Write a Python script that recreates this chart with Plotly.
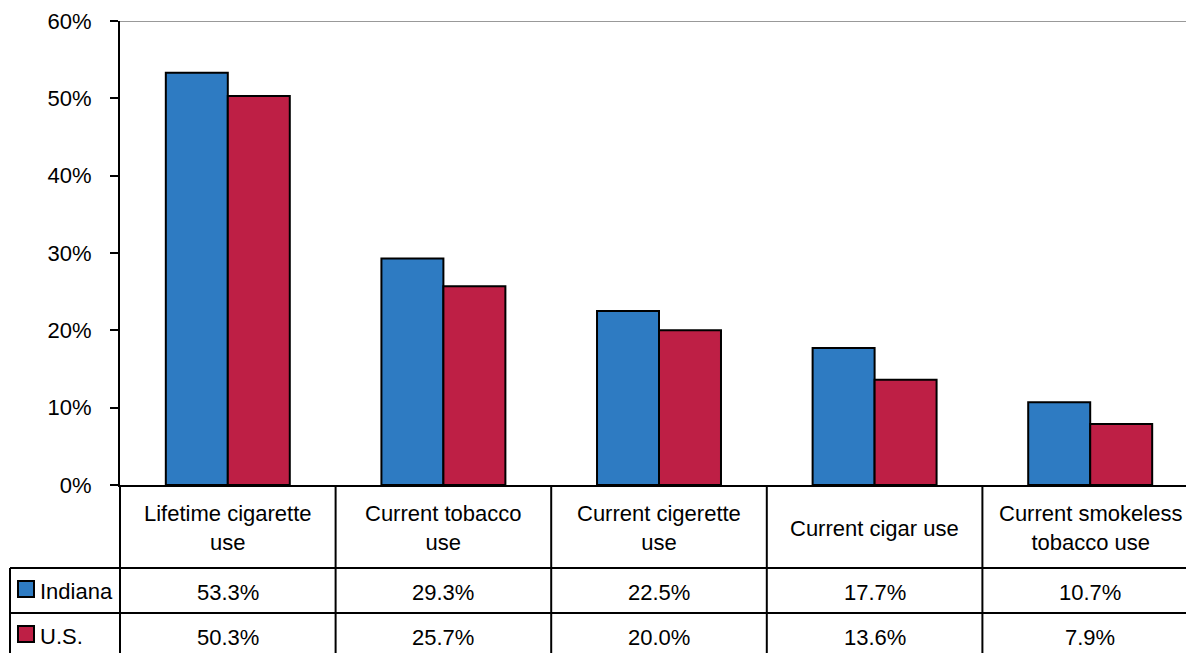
import plotly.graph_objects as go

# Survey results: share of respondents reporting each type of tobacco use
categories = ["Lifetime cigarette<br>use", "Current tobacco<br>use", "Current cigerette<br>use",
              "Current cigar use", "Current smokeless<br>tobacco use"]
series_names = ["Indiana", "U.S."]
indiana = [53.3, 29.3, 22.5, 17.7, 10.7]
us = [50.3, 25.7, 20.0, 13.6, 7.9]
y_ticks = [0, 10, 20, 30, 40, 50, 60]
y_tick_labels = [f"{t}%" for t in y_ticks]

BLUE = "#2E7BC2"
RED = "#BE1F45"
FONT = "Liberation Sans, Arial, sans-serif"

W, H = 1186, 653
ML, MT, MB = 120, 21, 168
plot_w = W - ML
plot_h = H - MT - MB
col_w = 215.6  # pixel width of one category column
x_hi = -0.5 + plot_w / col_w

def px_x(px):
    return (px - ML) / plot_w

def px_y(py):
    return (H - MB - py) / plot_h

fig = go.Figure()
for name, vals, col in [(series_names[0], indiana, BLUE), (series_names[1], us, RED)]:
    fig.add_trace(go.Bar(
        x=list(range(len(categories))), y=vals, name=name,
        marker=dict(color=col, line=dict(color="black", width=2)),
        showlegend=False, hoverinfo="skip",
    ))

shapes = []
# top boundary of the value axis (60%)
shapes.append(dict(type="line", xref="paper", yref="y", x0=0, x1=1, y0=60, y1=60,
                   line=dict(color="#999999", width=2)))

# data table grid
row1 = 568
row2 = 613
bottom = H + 10
for py in (row1, row2):
    shapes.append(dict(type="line", xref="paper", yref="paper",
                       x0=px_x(10), x1=1.02, y0=px_y(py), y1=px_y(py),
                       line=dict(color="black", width=2)))
shapes.append(dict(type="line", xref="paper", yref="paper",
                   x0=px_x(10), x1=px_x(10), y0=px_y(row1), y1=px_y(bottom),
                   line=dict(color="black", width=2)))
for i in range(len(categories) + 1):
    xp = ML + i * col_w
    shapes.append(dict(type="line", xref="paper", yref="paper",
                       x0=px_x(xp), x1=px_x(xp), y0=0, y1=px_y(bottom),
                       line=dict(color="black", width=2)))

annotations = []
# category header row
for i, c in enumerate(categories):
    annotations.append(dict(x=i, xref="x", y=px_y(528), yref="paper", text=c,
                            showarrow=False, xanchor="center", yanchor="middle",
                            font=dict(family=FONT, size=22, color="black")))

# series rows with legend keys and values
row_centers = [592, 637]
for name, vals, col, yc in [(series_names[0], indiana, BLUE, row_centers[0]),
                            (series_names[1], us, RED, row_centers[1])]:
    shapes.append(dict(type="rect", xref="paper", yref="paper",
                       x0=px_x(18), x1=px_x(34), y0=px_y(yc - 3 - 8), y1=px_y(yc - 3 + 8),
                       fillcolor=col, line=dict(color="black", width=2)))
    annotations.append(dict(x=px_x(38), xref="paper", y=px_y(yc - 1), yref="paper", text=name,
                            showarrow=False, xanchor="left", yanchor="middle",
                            font=dict(family=FONT, size=22, color="black")))
    for i, v in enumerate(vals):
        annotations.append(dict(x=i, xref="x", y=px_y(yc), yref="paper", text=f"{v:.1f}%",
                                showarrow=False, xanchor="center", yanchor="middle",
                                font=dict(family=FONT, size=22, color="black")))

fig.update_layout(
    width=W, height=H,
    margin=dict(l=ML, r=0, t=MT, b=MB, pad=0),
    paper_bgcolor="white", plot_bgcolor="white",
    barmode="group", bargap=0.425, bargroupgap=0,
    shapes=shapes, annotations=annotations,
    font=dict(family=FONT, size=22, color="black"),
    xaxis=dict(range=[-0.5, x_hi], showticklabels=False, ticks="", showgrid=False,
               zeroline=False, showline=True, linecolor="black", linewidth=2,
               fixedrange=True),
    yaxis=dict(range=[0, 60], tickmode="array", tickvals=y_ticks, ticktext=y_tick_labels,
               showgrid=False, zeroline=False, showline=True, linecolor="black", linewidth=2,
               ticks="outside", ticklen=8, tickwidth=2, tickcolor="black",
               ticklabelstandoff=14, tickfont=dict(family=FONT, size=22, color="black"),
               fixedrange=True),
)

fig.write_html("out.html", config={"displayModeBar": False})
